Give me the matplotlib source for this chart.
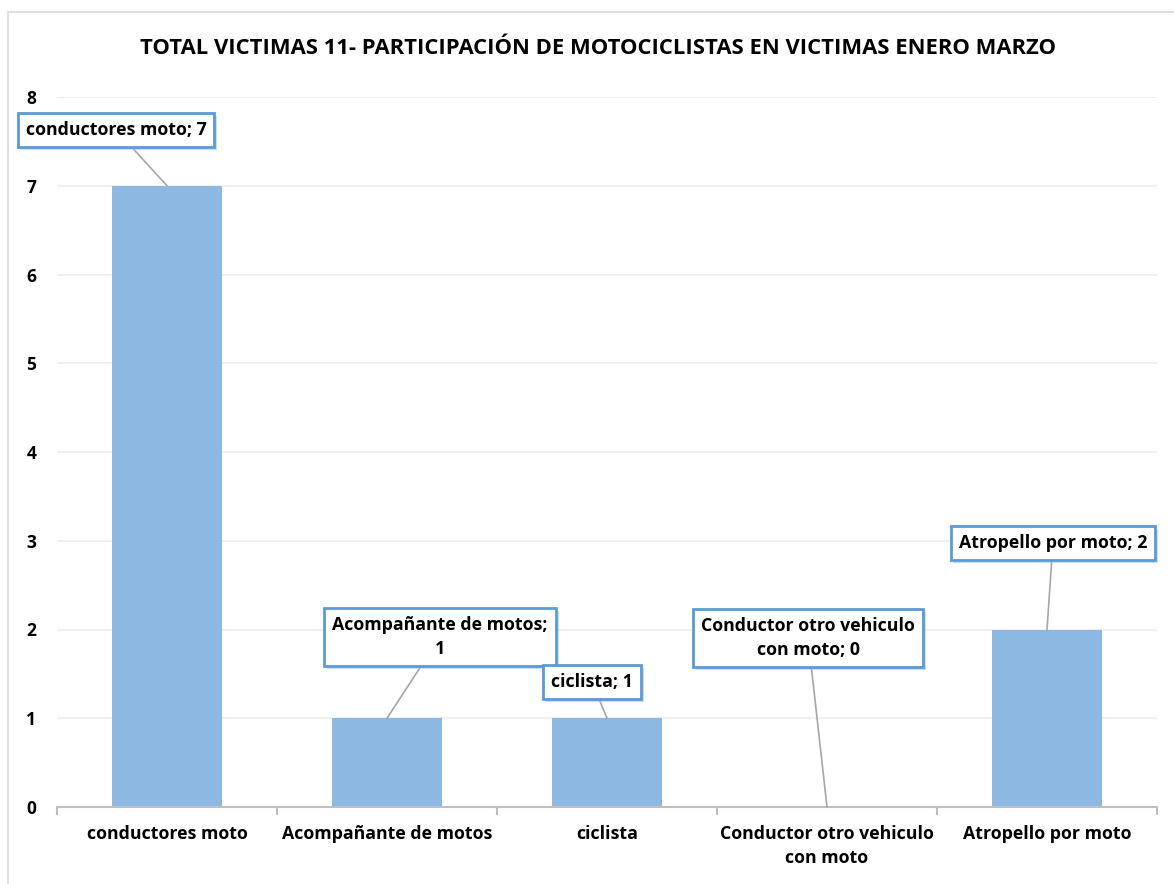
import matplotlib
matplotlib.use("Agg")
import matplotlib.pyplot as plt
import matplotlib.patheffects as pe
from matplotlib.patches import Rectangle

categories = ["conductores moto", "Acompañante de motos", "ciclista",
              "Conductor otro vehiculo\ncon moto", "Atropello por moto"]
values = [7, 1, 1, 0, 2]
label_texts = ["conductores moto; 7", "Acompañante de motos;\n1", "ciclista; 1",
               "Conductor otro vehiculo\ncon moto; 0", "Atropello por moto; 2"]
label_pos = [(-0.232, 7.63), (1.241, 1.915), (1.932, 1.408), (2.914, 1.904), (4.027, 2.975)]
title = "TOTAL VICTIMAS 11- PARTICIPACIÓN DE MOTOCICLISTAS EN VICTIMAS ENERO MARZO"

plt.rcParams['font.family'] = ['Open Sans', 'DejaVu Sans']
W, H = 1174, 884
fig = plt.figure(figsize=(W / 100, H / 100), dpi=100)
fig.patch.set_facecolor("white")
fig.patches.append(Rectangle((8 / W, -0.1), 1.2, (H - 12) / H + 0.1, transform=fig.transFigure,
                             fill=False, edgecolor="#D9D9D9", linewidth=1.2))

ax = fig.add_axes([57 / W, 77 / H, 1100 / W, 710 / H])
x = list(range(len(categories)))
ax.bar(x, values, width=0.5, color="#8DB8E2", zorder=2)
ax.set_xlim(-0.5, len(categories) - 0.5)
ax.set_ylim(0, 8)
ax.set_yticks(range(0, 9))
ax.set_yticklabels([str(i) for i in range(0, 9)], fontsize=12.5, fontweight="bold")
ax.grid(axis="y", color="#EDEDED", linewidth=1.2, zorder=0)
ax.set_axisbelow(True)
for s in ["top", "right", "left"]:
    ax.spines[s].set_visible(False)
ax.spines["bottom"].set_color("#BFBFBF")
ax.spines["bottom"].set_linewidth(1.5)
ax.tick_params(axis="y", length=0, pad=15)
ax.set_xticks([i - 0.5 for i in range(len(categories) + 1)], minor=False)
ax.set_xticklabels([""] * (len(categories) + 1))
ax.tick_params(axis="x", which="major", length=6, width=1.5, color="#BFBFBF")
ax.set_xticks(x, minor=True)
ax.set_xticklabels(categories, minor=True, fontsize=12.8, fontweight="bold", linespacing=1.4)
ax.tick_params(axis="x", which="minor", length=0, pad=13)

for i, (txt, (lx, ly)) in enumerate(zip(label_texts, label_pos)):
    a = ax.annotate(txt, xy=(i, values[i]), xytext=(lx, ly), textcoords="data",
                    ha="center", va="center", fontsize=12.8, fontweight="bold",
                    multialignment="center", linespacing=1.45,
                    bbox=dict(boxstyle="square,pad=0.45", facecolor="white",
                              edgecolor="#5B9BD5", linewidth=2),
                    arrowprops=dict(arrowstyle="-", color="#A6A6A6", linewidth=1.2,
                                    shrinkA=0, shrinkB=0),
                    zorder=5, annotation_clip=False)
    a.get_bbox_patch().set_path_effects([
        pe.SimplePatchShadow(offset=(2, -2), shadow_rgbFace="#9DC3E6", alpha=0.5),
        pe.Normal()])

fig.text(598 / W, 1 - 48 / H, title, ha="center", va="center", fontsize=15.8, fontweight="bold")

fig.savefig("out.png", dpi=100, facecolor="white")
